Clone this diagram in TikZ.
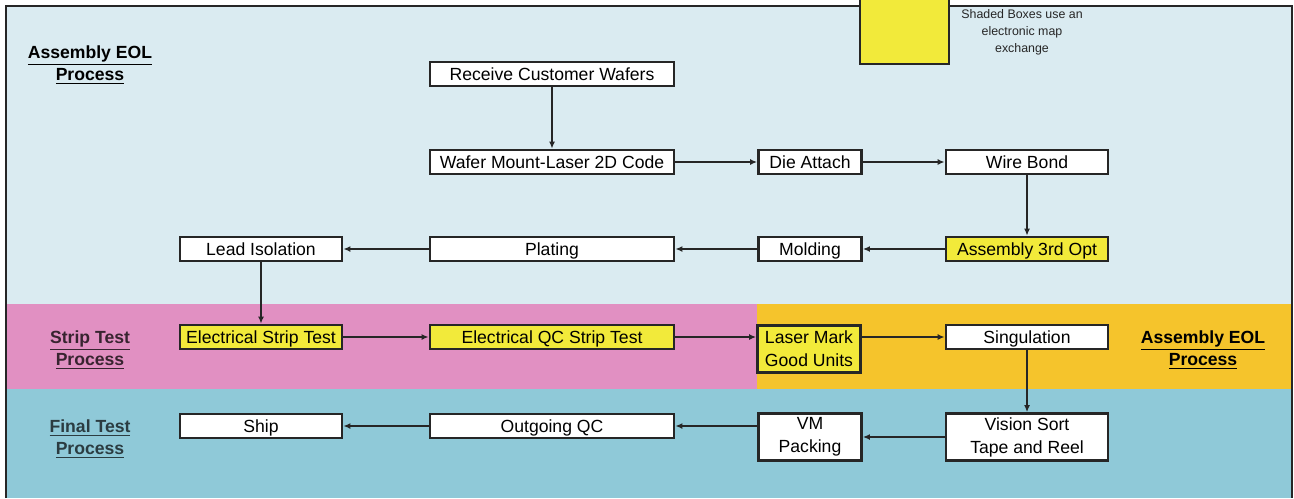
\documentclass[tikz,border=0pt]{standalone}
\usepackage{fontspec}
\setmainfont{Liberation Sans}
\usetikzlibrary{arrows.meta}
\definecolor{skyband}{HTML}{DAEBF1}
\definecolor{pinkband}{HTML}{E190C2}
\definecolor{orangeband}{HTML}{F5C42C}
\definecolor{tealband}{HTML}{8FC9D8}
\definecolor{mapyellow}{HTML}{F2EA3A}
\definecolor{inkgray}{HTML}{262626}
\tikzset{
  stepbox/.style={draw=inkgray,line width=1.4pt,fill=white,inner sep=0pt,
    minimum height=12pt,text height=6.3pt,text depth=0pt,align=center,
    font=\fontsize{8.8}{11.5}\selectfont},
  mapbox/.style={stepbox,fill=mapyellow},
  wide/.style={minimum width=122pt},
  mid/.style={minimum width=81pt},
  small/.style={minimum width=51.5pt},
  tall/.style={minimum height=23.5pt,text height=,text depth=},
  flow/.style={-{Latex[length=3.5pt,width=3pt]},line width=0.7pt,inkgray},
  lane/.style={align=center,font=\fontsize{8.8}{11}\selectfont\bfseries}
}
\begin{document}
\begin{tikzpicture}[x=0.5pt,y=-0.5pt]
    \useasboundingbox (0,0) rectangle (1294,498);
    % Faixas de fundo
    \fill[white] (0,0) rectangle (1294,498);
    \fill[skyband] (6,6) rectangle (1292,304);
    \fill[pinkband] (6,304) rectangle (757,389);
    \fill[orangeband] (757,304) rectangle (1292,389);
    \fill[tealband] (6,389) rectangle (1292,498);
    \draw[inkgray,line width=1.2pt] (6,498) -- (6,6) -- (1292,6) -- (1292,498);
    % Legenda
    \filldraw[fill=mapyellow,draw=inkgray,line width=1.4pt] (860,-2) rectangle (949,64);
    \node[align=center,font=\fontsize{6.2}{8.5}\selectfont,text=inkgray] (legend) at (1022,32)
      {Shaded Boxes use an\\electronic map\\exchange};
    % Rotulos das faixas
    \node[lane] (laneasm) at (90,65) {\underline{Assembly EOL}\\\underline{Process}};
    \node[lane,text=black!75!pinkband] (lanestrip) at (90,350) {\underline{Strip Test}\\\underline{Process}};
    \node[lane,text=black!70!tealband] (lanefinal) at (90,439) {\underline{Final Test}\\\underline{Process}};
    \node[lane] (laneeol) at (1203,350) {\underline{Assembly EOL}\\\underline{Process}};
    % Etapas
    \node[stepbox,wide] (recv) at (552,74) {Receive Customer Wafers};
    \node[stepbox,wide] (wafer) at (552,162) {Wafer Mount-Laser 2D Code};
    \node[stepbox,small] (die) at (810,162) {Die Attach};
    \node[stepbox,mid] (wire) at (1027,162) {Wire Bond};
    \node[mapbox,mid] (asm3) at (1027,249) {Assembly 3rd Opt};
    \node[stepbox,small] (mold) at (810,249) {Molding};
    \node[stepbox,wide] (plat) at (552,249) {Plating};
    \node[stepbox,mid] (lead) at (261,249) {Lead Isolation};
    \node[mapbox,mid] (est) at (261,337) {Electrical Strip Test};
    \node[mapbox,wide] (eqc) at (552,337) {Electrical QC Strip Test};
    \node[mapbox,small,tall] (lmark) at (809,349) {Laser Mark\\Good Units};
    \node[stepbox,mid] (sing) at (1027,337) {Singulation};
    \node[stepbox,mid,tall] (vsort) at (1027,437) {Vision Sort\\Tape and Reel};
    \node[stepbox,small,tall] (vm) at (810,437) {VM\\Packing};
    \node[stepbox,wide] (oqc) at (552,426) {Outgoing QC};
    \node[stepbox,mid] (ship) at (261,426) {Ship};
    % Fluxo
    \draw[flow] (recv) -- (wafer);
    \draw[flow] (wafer) -- (die);
    \draw[flow] (die) -- (wire);
    \draw[flow] (wire) -- (asm3);
    \draw[flow] (asm3) -- (mold);
    \draw[flow] (mold) -- (plat);
    \draw[flow] (plat) -- (lead);
    \draw[flow] (lead) -- (est);
    \draw[flow] (est) -- (eqc);
    \draw[flow] (eqc.east) -- (lmark.west |- eqc.east);
    \draw[flow] (lmark.east |- sing.west) -- (sing.west);
    \draw[flow] (sing) -- (vsort);
    \draw[flow] (vsort) -- (vm);
    \draw[flow] (vm.west |- oqc.east) -- (oqc.east);
    \draw[flow] (oqc) -- (ship);
\end{tikzpicture}
\end{document}
